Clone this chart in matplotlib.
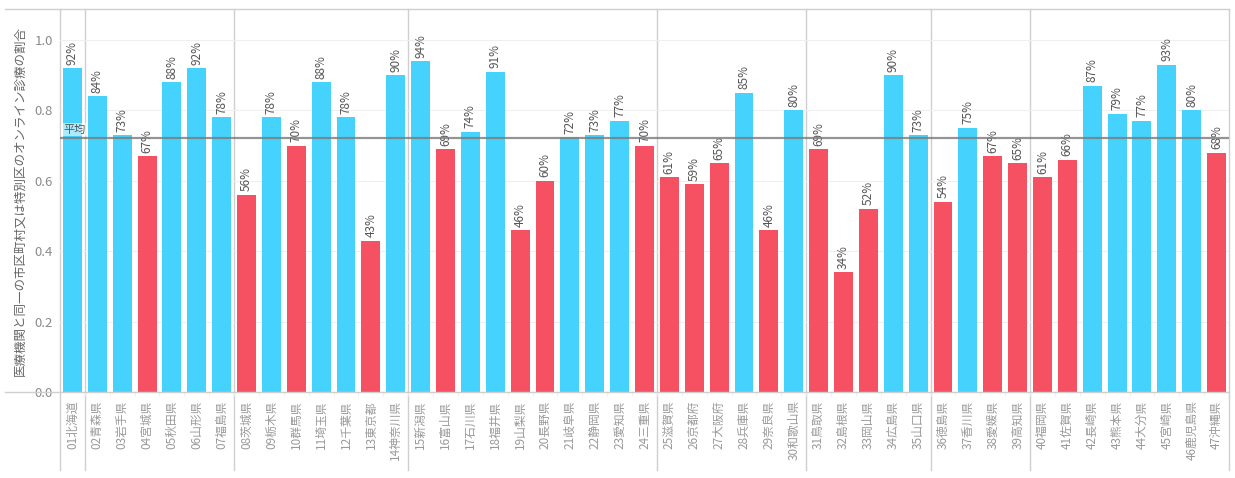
import matplotlib
matplotlib.use("Agg")
import matplotlib.pyplot as plt

plt.rcParams["font.family"] = ["Noto Sans CJK JP", "DejaVu Sans"]

prefectures = [
    "01北海道", "02青森県", "03岩手県", "04宮城県", "05秋田県", "06山形県", "07福島県",
    "08茨城県", "09栃木県", "10群馬県", "11埼玉県", "12千葉県", "13東京都", "14神奈川県",
    "15新潟県", "16富山県", "17石川県", "18福井県", "19山梨県", "20長野県", "21岐阜県",
    "22静岡県", "23愛知県", "24三重県", "25滋賀県", "26京都府", "27大阪府", "28兵庫県",
    "29奈良県", "30和歌山県", "31鳥取県", "32島根県", "33岡山県", "34広島県", "35山口県",
    "36徳島県", "37香川県", "38愛媛県", "39高知県", "40福岡県", "41佐賀県", "42長崎県",
    "43熊本県", "44大分県", "45宮崎県", "46鹿児島県", "47沖縄県",
]
ratios = [
    0.92, 0.84, 0.73, 0.67, 0.88, 0.92, 0.78,
    0.56, 0.78, 0.70, 0.88, 0.78, 0.43, 0.90,
    0.94, 0.69, 0.74, 0.91, 0.46, 0.60, 0.724,
    0.73, 0.77, 0.70, 0.61, 0.59, 0.65, 0.85,
    0.46, 0.80, 0.69, 0.34, 0.52, 0.90, 0.73,
    0.54, 0.75, 0.67, 0.65, 0.61, 0.66, 0.87,
    0.79, 0.77, 0.93, 0.80, 0.68,
]
average = 0.7215
# 地方ブロックの区切り (この番号の後ろに線)
region_breaks = [1, 7, 14, 24, 30, 35, 39]

BLUE = "#45D3FE"
RED = "#F65162"
GRID = "#cfcfcf"

fig = plt.figure(figsize=(12.35, 4.78), dpi=100)
ax = fig.add_axes([60 / 1235, 86 / 478, 1169 / 1235, 383 / 478])

xs = list(range(len(ratios)))
colors = [BLUE if v >= average else RED for v in ratios]
ax.bar(xs, ratios, width=0.76, color=colors, zorder=2)

for x, v in zip(xs, ratios):
    ax.text(x, v + 0.01, f"{round(v * 100)}%", rotation=90, ha="center", va="bottom",
            fontsize=8.5, color="#555555", zorder=3)

ax.axhline(average, color="#7a7a7a", alpha=0.8, lw=1.6, zorder=4)
ax.text(-0.38, average + 0.01, "平均", fontsize=8, color="#555555",
        ha="left", va="bottom", zorder=5,
        bbox=dict(boxstyle="square,pad=0.15", fc="white", ec="none", alpha=0.55))

ax.set_xlim(-0.5, len(ratios) - 0.5)
ax.set_ylim(0, 1.088)

ax.set_yticks([0.0, 0.2, 0.4, 0.6, 0.8, 1.0])
ax.set_yticklabels(["0.0", "0.2", "0.4", "0.6", "0.8", "1.0"])
ax.tick_params(axis="y", length=0, labelsize=9.5, labelcolor="#8a8a8a", pad=5)
ax.grid(axis="y", color="#efefef", lw=0.8, zorder=0)

ax.set_xticks(xs)
ax.set_xticklabels(prefectures, rotation=90, fontsize=8.5, color="#9a9a9a")
ax.tick_params(axis="x", length=0, pad=6)
ax.set_xticks([x + 0.5 for x in xs[:-1]], minor=True)
ax.tick_params(axis="x", which="minor", length=3, color="#ececec")

ax.set_ylabel("医療機関と同一の市区町村又は特別区のオンライン診療の割合",
              fontsize=9, color="#666666", labelpad=6)

for s in ["top", "right", "left", "bottom"]:
    ax.spines[s].set_visible(False)

# 枠線と区切り線
ext = -78 / 383
for b in region_breaks:
    ax.axvline(b - 0.5, ymin=ext, ymax=1, color=GRID, lw=1, clip_on=False, zorder=1)
ax.axvline(-0.5, ymin=ext, ymax=1, color=GRID, lw=1, clip_on=False, zorder=1)
ax.axvline(len(ratios) - 0.5, ymin=ext, ymax=1, color=GRID, lw=1, clip_on=False, zorder=1)
left_ext = -55 / 1169
ax.axhline(0, xmin=left_ext, xmax=1, color=GRID, lw=1, clip_on=False, zorder=3)
ax.axhline(1.088, xmin=left_ext, xmax=1, color=GRID, lw=1, clip_on=False, zorder=1)

fig.savefig("out.png", dpi=100)
